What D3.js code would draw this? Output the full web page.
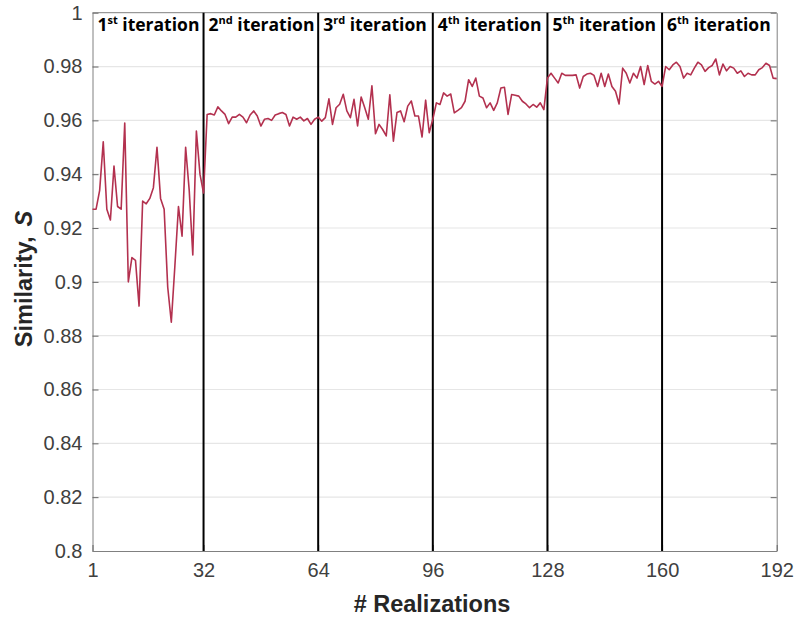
<!DOCTYPE html>
<html><head><meta charset="utf-8">
<script src="https://cdn.jsdelivr.net/npm/d3@7"></script>
<style>body{margin:0;background:#fff}</style>
</head><body><svg id="c" width="798" height="619"></svg>
<script>
const iteration1 = [0.927,0.927,0.934,0.952,0.927,0.923,0.943,0.928,0.927,0.959,0.900,0.909,0.908,0.891,0.930,0.929,0.931,0.935,0.950,0.931,0.927,0.898,0.885,0.906,0.928,0.917,0.950,0.934,0.910,0.956,0.940,0.933];
const iteration2 = [0.9622,0.9625,0.962,0.965,0.9635,0.9622,0.9588,0.9612,0.9612,0.9622,0.9612,0.9591,0.962,0.9635,0.9616,0.9579,0.9604,0.9607,0.96,0.962,0.9625,0.9629,0.9622,0.9579,0.9612,0.9604,0.9612,0.9598,0.9607,0.9585,0.9604,0.9612];
const iteration3 = [0.9597,0.961,0.968,0.9585,0.9647,0.966,0.9697,0.9635,0.961,0.9678,0.9579,0.9687,0.9647,0.9604,0.9728,0.955,0.9585,0.9566,0.9542,0.9695,0.9523,0.9629,0.9635,0.9595,0.9653,0.9672,0.9616,0.9616,0.9538,0.9675,0.9554,0.9604];
const iteration4 = [0.9665,0.9659,0.9702,0.969,0.9698,0.9628,0.9637,0.9647,0.9671,0.9751,0.9726,0.9757,0.969,0.9683,0.9647,0.9665,0.9637,0.9665,0.972,0.9723,0.9622,0.9696,0.9693,0.969,0.9671,0.9661,0.9647,0.9659,0.9649,0.9665,0.964,0.9757];
const iteration5 = [0.9775,0.9757,0.9739,0.9775,0.9767,0.9767,0.9767,0.9769,0.972,0.9763,0.9772,0.9775,0.9767,0.9726,0.9775,0.9726,0.9772,0.9726,0.9708,0.9661,0.9794,0.9775,0.9739,0.9775,0.9757,0.98,0.9733,0.9804,0.9745,0.9735,0.9745,0.9726];
const iteration6 = [0.98,0.9788,0.9806,0.9816,0.98,0.9757,0.9775,0.9769,0.9794,0.9816,0.9806,0.9782,0.9796,0.9804,0.9828,0.9769,0.9809,0.9784,0.98,0.9794,0.9775,0.9784,0.9763,0.9775,0.9769,0.9769,0.9788,0.9796,0.9812,0.9804,0.9757,0.9755];
const xTickValues = [1,32,64,96,128,160,192];
const separators = [32,64,96,128,160];
const yTickValues = [0.8,0.82,0.84,0.86,0.88,0.9,0.92,0.94,0.96,0.98,1];
const iterationStarts = [1,32,64,96,128,160];
const iterationNumbers = ["1","2","3","4","5","6"];
const iterationSuffixes = ["st","nd","rd","th","th","th"];
const xTitle = "# Realizations";

const similarity = [].concat(iteration1,iteration2,iteration3,iteration4,iteration5,iteration6);
const data = similarity.map((v,i)=>({r:i+1,v}));

const L=92.5,R=776.7,T=12.7,B=551;
const svg=d3.select("#c");
const x=d3.scaleLinear().domain([1,192]).range([L,R]);
const y=d3.scaleLinear().domain([0.8,1]).range([B,T]);

// grid
svg.append("g").selectAll("line").data(yTickValues.filter(v=>v>0.8&&v<1)).join("line")
  .attr("x1",L).attr("x2",R).attr("y1",d=>y(d)).attr("y2",d=>y(d))
  .attr("stroke","#e6e6e6").attr("stroke-width",1.2);

const fmt=v=>String(+v.toFixed(2));
// left axis
const ya=svg.append("g").attr("transform",`translate(${L},0)`)
  .call(d3.axisLeft(y).tickValues(yTickValues).tickFormat(fmt).tickSizeInner(-6).tickSizeOuter(0).tickPadding(10));
ya.select(".domain").attr("stroke","#808080");
ya.selectAll(".tick line").attr("stroke","#666");
ya.selectAll("text").attr("font-family","Liberation Sans, Arial, sans-serif").attr("font-size",20).attr("fill","#404040");
// right axis ticks
const yr=svg.append("g").attr("transform",`translate(${R},0)`)
  .call(d3.axisRight(y).tickValues(yTickValues).tickFormat("").tickSizeInner(-6).tickSizeOuter(0));
yr.select(".domain").attr("stroke","#808080");
yr.selectAll(".tick line").attr("stroke","#666");
// bottom axis
const xa=svg.append("g").attr("transform",`translate(0,${B})`)
  .call(d3.axisBottom(x).tickValues(xTickValues).tickFormat(d3.format("d")).tickSizeInner(-6).tickSizeOuter(0).tickPadding(12));
xa.select(".domain").attr("stroke","#808080");
xa.selectAll(".tick line").attr("stroke","#666");
xa.selectAll("text").attr("font-family","Liberation Sans, Arial, sans-serif").attr("font-size",20).attr("fill","#404040");
// top line
svg.append("line").attr("x1",L).attr("x2",R).attr("y1",T).attr("y2",T).attr("stroke","#808080");

// separators
svg.append("g").selectAll("line").data(separators).join("line")
  .attr("x1",d=>x(d)).attr("x2",d=>x(d)).attr("y1",T).attr("y2",B)
  .attr("stroke","#000").attr("stroke-width",2);

// data line
svg.append("path").datum(data)
  .attr("d",d3.line().x(d=>x(d.r)).y(d=>y(d.v)))
  .attr("fill","none").attr("stroke","#b3314f").attr("stroke-width",1.6).attr("stroke-linejoin","round");

// iteration labels
const lab=svg.append("g").selectAll("text").data(iterationStarts).join("text")
  .attr("x",d=>x(d)+5).attr("y",31)
  .attr("font-family","Open Sans, sans-serif").attr("font-weight","bold").attr("font-size",17.5).attr("fill","#000");
lab.append("tspan").text((d,i)=>iterationNumbers[i]);
lab.append("tspan").attr("font-size",11).attr("dy",-7).text((d,i)=>iterationSuffixes[i]);
lab.append("tspan").attr("dy",7).text(" iteration");

// axis titles
svg.append("text").attr("x",432).attr("y",612).attr("text-anchor","middle")
  .attr("font-family","Liberation Sans, Arial, sans-serif").attr("font-weight","bold").attr("font-size",23.5).attr("fill","#262626")
  .text(xTitle);
const yt=svg.append("text").attr("transform","translate(32,279) rotate(-90)").attr("text-anchor","middle")
  .attr("font-family","Liberation Sans, Arial, sans-serif").attr("font-weight","bold").attr("font-size",23.5).attr("fill","#262626");
yt.append("tspan").text("Similarity,");
yt.append("tspan").attr("dx",10).attr("font-style","italic").text("S");
</script></body></html>
